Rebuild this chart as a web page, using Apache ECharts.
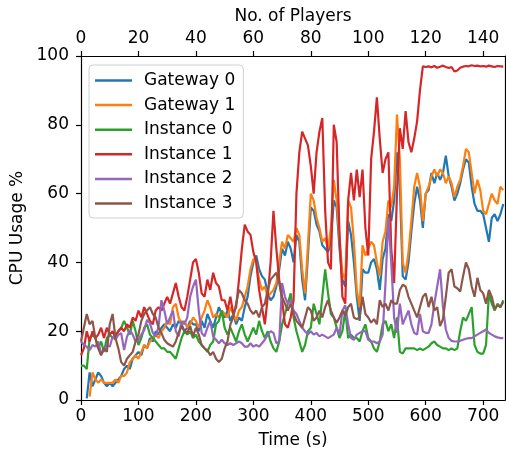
<!DOCTYPE html>
<html><head><meta charset="utf-8">
<script src="https://cdn.jsdelivr.net/npm/echarts@6/dist/echarts.min.js"></script>
<style>html,body{margin:0;padding:0;background:#fff}#c{width:506px;height:450px}</style>
</head><body><div id="c"></div>
<script>
// sampling grid of the time axis (seconds), one sample every 5 s from 0 to 735
const time = [];
for (let t = 0; t <= 735; t += 5) time.push(t);

const timeTicks = [0, 100, 200, 300, 400, 500, 600, 700];
const playerTicks = [0, 20, 40, 60, 80, 100, 120, 140];
const cpuTicks = [0, 20, 40, 60, 80, 100];

const seriesNames = ['Gateway 0', 'Gateway 1', 'Instance 0', 'Instance 1', 'Instance 2', 'Instance 3'];

const gateway0 = [
  null, null, 0.5, 8, 4, 6, 8, 7, 5, 4,
  5, 4, 5, 6, 7, 9, 10, 9, 12, 13,
  14, 13, 16, 15, 18, 17, 20, 19, 21, 22,
  21, 20, 22, 21, 23, 22, 20, 21, 23, 22,
  22, 20, 23, 21, 25, 23, 21, 24, 27, 25,
  24, 26, 23, 25, 22, 24, 23, 27, 30, 36,
  40, 42, 38, 36, 35, 31, 29, 30, 33, 38,
  44, 42, 46, 44, 40, 48, 46, 35, 29, 42,
  56, 55, 51, 49, 45, 44, 43, 46, 58, 56,
  44, 35, 33, 52, 48, 40, 30, 23, 38, 37,
  37, 40, 41, 38, 32, 41, 44, 54, 52, 58,
  72, 62, 36, 35, 40, 49, 57, 62, 58, 50,
  60, 61, 66, 63, 66, 64, 66, 71, 65, 62,
  58, 60, 63, 67, 70, 69, 62, 57, 55, 55,
  54, 50, 46, 53, 54, 52, 54, 57
];
const gateway1 = [
  null, null, null, 1, 8, 6, 5, 6, 5, 5,
  5, 5, 6, 5, 7, 7, 8, 11, 12, 13,
  12, 14, 16, 15, 17, 18, 19, 18, 20, 21,
  23, 22, 27, 28, 24, 22, 23, 21, 22, 24,
  23, 21, 24, 26, 29, 27, 24, 25, 24, 26,
  25, 24, 27, 25, 23, 26, 27, 30, 33, 38,
  41, 40, 35, 32, 33, 30, 31, 32, 34, 40,
  46, 44, 48, 47, 46, 50, 48, 38, 31, 45,
  60, 58, 53, 50, 46, 47, 44, 50, 64, 58,
  47, 37, 35, 58, 56, 46, 32, 27, 45, 42,
  44, 46, 45, 40, 36, 46, 49, 58, 56, 62,
  83, 70, 40, 37, 43, 52, 62, 66, 62, 52,
  60, 62, 65, 67, 65, 67, 66, 63, 65, 63,
  59, 62, 64, 68, 73, 72, 66, 60, 64, 61,
  55, 54, 57, 60, 58, 57, 62, 61
];
const instance0 = [
  10, 10, 9, 18, 19, 18, 15, 17, 14, 18,
  19, 18, 19, 20, 21, 23, 21, 19, 23, 20,
  16, 18, 21, 22, 19, 18, 17, 16, 15, 15,
  14, 14, 13, 12, 15, 18, 20, 19, 20, 18,
  19, 17, 16, 15, 14, 16, 17, 22, 23, 26,
  21, 19, 21, 19, 17, 20, 22, 19, 17, 19,
  21, 19, 23, 20, 18, 20, 17, 15, 14, 17,
  22, 25, 28, 31, 24, 20, 17, 14, 16, 20,
  21, 28, 25, 22, 30, 38, 31, 25, 24, 21,
  18, 20, 26, 18, 19, 18, 18, 17, 20, 22,
  18, 17, 15, 14, 17, 22, 23, 20, 22, 18,
  24, 14, 13.5, 15, 15, 15, 15, 14.5, 15, 14.5,
  15, 15.5, 16.5, 17, 16, 15.5, 15, 15, 14.5, 15,
  14.5, 15, 20, 24, 23, 25, 27, 16, 14, 13.5,
  13.5, 16, 31, 28, 26, 28, 27, 29
];
const instance1 = [
  13, 15, 20, 17, 20, 18, 19, 21, 18, 21,
  19, 20, 18, 20, 21, 20, 22, 21, 24, 23,
  26, 24, 27, 25, 23, 22, 26, 27, 26, 28,
  30, 28, 31, 34, 30, 27, 26, 30, 35, 40,
  41, 37, 31, 30, 35, 32, 37, 34, 33, 29,
  29, 26, 30, 25, 27, 35, 44, 51, 49, 48,
  43, 40, 32, 27, 22, 30, 40, 55, 44, 35,
  29, 22, 21, 24, 29, 60, 72, 78, 76, 74,
  68, 60, 72, 78, 82, 55, 40, 38, 80, 75,
  48, 30, 28, 58, 66, 58, 67, 59, 67, 50,
  42, 70, 78, 88, 76, 66, 70, 72, 44, 34,
  60, 79, 73, 84, 75, 72, 76, 81, 90, 97,
  96.8, 97, 96.7, 97.1, 96.6, 96.9, 97.2, 96.8, 96.5, 96.8,
  95.5, 95.8, 96.6, 96.9, 97.1, 97, 97.3, 97.1, 97.2, 97,
  97.1, 96.9, 97.2, 97, 96.8, 97.1, 97, 96.9
];
const instance2 = [
  17, 16, 15.5, 14.5, 16, 15.5, 17, 13.5, 14.5, 16,
  15.5, 18.4, 17.5, 19, 19.4, 14.5, 18.4, 20.3, 19, 17,
  17.5, 19, 20.3, 23.3, 22.3, 19.5, 18.4, 21.3, 29, 26,
  22, 24, 26, 20, 18.5, 23, 22, 24, 30, 33,
  35, 26, 19.5, 18.5, 21, 23, 18.5, 17.5, 16.5, 17.5,
  16.5, 16, 16.5, 16, 16.5, 17, 16.5, 15.5, 15.5, 16.5,
  15.5, 16, 15.5, 16.5, 17.5, 19, 20, 19.5, 16.5, 17,
  34, 30, 28, 29, 26, 25, 23, 21, 20, 19,
  20, 19, 19.5, 18.5, 19, 18.5, 18, 18.5, 19, 21,
  19, 26, 27.5, 22, 18, 17.5, 19, 19.5, 20, 20,
  17.5, 17, 17, 16.5, 17, 19, 34, 53, 40, 24,
  19.5, 28, 22, 24, 26, 22, 19.5, 19, 25, 20,
  19.5, 19.5, 22, 28, 33, 38, 27, 20.5, 18, 17.2,
  17, 17, 17.2, 17.5, 17.8, 18, 18, 18.5, 19, 19.5,
  20, 20.5, 19.5, 19, 18.5, 18.2, 18, 18
];
const instance3 = [
  17, 21, 25, 22, 23, 18, 15, 13, 15, 14,
  22, 25, 18, 15, 11, 10, 12, 13, 14, 17,
  19, 23, 25, 26, 27, 25, 24, 21, 19.5, 17.5,
  16.5, 16, 15.5, 17, 19.5, 21.5, 20, 19.5, 21.5, 18.5,
  21, 19, 16, 15, 14.5, 13, 14, 12, 11, 12,
  15, 17, 22, 24, 28, 32, 31, 29, 28, 26,
  25, 26, 24, 27, 28, 32, 35, 36, 37, 34,
  30, 28, 26, 28, 25, 23, 22, 21, 24, 27,
  26, 23, 24, 26, 24, 27, 29, 26, 24, 22.5,
  24, 26, 24.5, 27, 28, 24, 23.5, 24, 30, 25,
  24, 22.5, 23.5, 22, 29, 27, 28, 26, 29, 28,
  28, 32, 33.5, 33, 30, 28, 26, 24, 27, 30,
  31, 27, 30, 26, 27, 21.5, 23.5, 30, 37, 38,
  33, 32.5, 31.5, 36, 40, 38, 33, 30, 35.5, 32,
  31, 28, 32, 30, 26.5, 27.5, 27, 28.5
];

const seriesValues = [gateway0, gateway1, instance0, instance1, instance2, instance3];
const colors = ['#1f77b4', '#ff7f0e', '#2ca02c', '#d62728', '#9467bd', '#8c564b'];

const FONT = 'DejaVu Sans';
const FS = 17;
const black = '#000';

function axisCommon() {
  return {
    axisLine: { show: true, onZero: false, lineStyle: { color: black, width: 1.2 } },
    splitLine: { show: false },
    nameTextStyle: { fontFamily: FONT, fontSize: FS, color: black },
  };
}
function ticks(values) {
  return { show: true, length: 5, lineStyle: { color: black, width: 1.2 }, customValues: values };
}

const chart = echarts.init(document.getElementById('c'), null, { renderer: 'canvas' });
chart.setOption({
  animation: false,
  textStyle: { fontFamily: FONT },
  grid: { left: 81, right: 1, top: 56, bottom: 50, show: false, containLabel: false, outerBoundsMode: 'none' },
  legend: {
    orient: 'vertical', left: 89, top: 65,
    padding: [7, 8, 6, 6], itemGap: 7.6,
    itemWidth: 37, itemHeight: 2.5, icon: 'rect',
    backgroundColor: 'rgba(255,255,255,0.85)',
    borderColor: '#d0d0d0', borderWidth: 1, borderRadius: 4,
    textStyle: { fontFamily: FONT, fontSize: FS, color: black, padding: [0, 0, 0, 7] },
    data: seriesNames
  },
  xAxis: [
    Object.assign(axisCommon(), {
      type: 'value', position: 'bottom', min: 0, max: 738,
      name: 'Time (s)', nameLocation: 'middle', nameGap: 32,
      axisTick: ticks(timeTicks),
      axisLabel: { fontFamily: FONT, fontSize: FS, color: black, margin: 8, customValues: timeTicks }
    }),
    Object.assign(axisCommon(), {
      type: 'value', position: 'top', min: 0, max: 147.6,
      name: 'No. of Players', nameLocation: 'middle', nameGap: 30,
      axisTick: ticks(playerTicks),
      axisLabel: { fontFamily: FONT, fontSize: FS, color: black, margin: 9, customValues: playerTicks }
    })
  ],
  yAxis: [
    Object.assign(axisCommon(), {
      type: 'value', position: 'left', min: 0, max: 100,
      name: 'CPU Usage %', nameLocation: 'middle', nameGap: 45,
      axisTick: ticks(cpuTicks),
      axisLabel: { fontFamily: FONT, fontSize: FS, color: black, margin: 12, customValues: cpuTicks }
    }),
    {
      type: 'value', position: 'right', min: 0, max: 100,
      axisLine: { show: true, onZero: false, lineStyle: { color: black, width: 1.2 } },
      axisTick: { show: false }, axisLabel: { show: false }, splitLine: { show: false }
    }
  ],
  series: seriesNames.map((name, k) => ({
    name: name, type: 'line', xAxisIndex: 0, yAxisIndex: 0,
    data: seriesValues[k].map((v, i) => [time[i], v]),
    showSymbol: false, symbol: 'none', connectNulls: false,
    lineStyle: { color: colors[k], width: 2.2 },
    itemStyle: { color: colors[k] },
    emphasis: { disabled: true }
  }))
});
</script>
</body></html>
